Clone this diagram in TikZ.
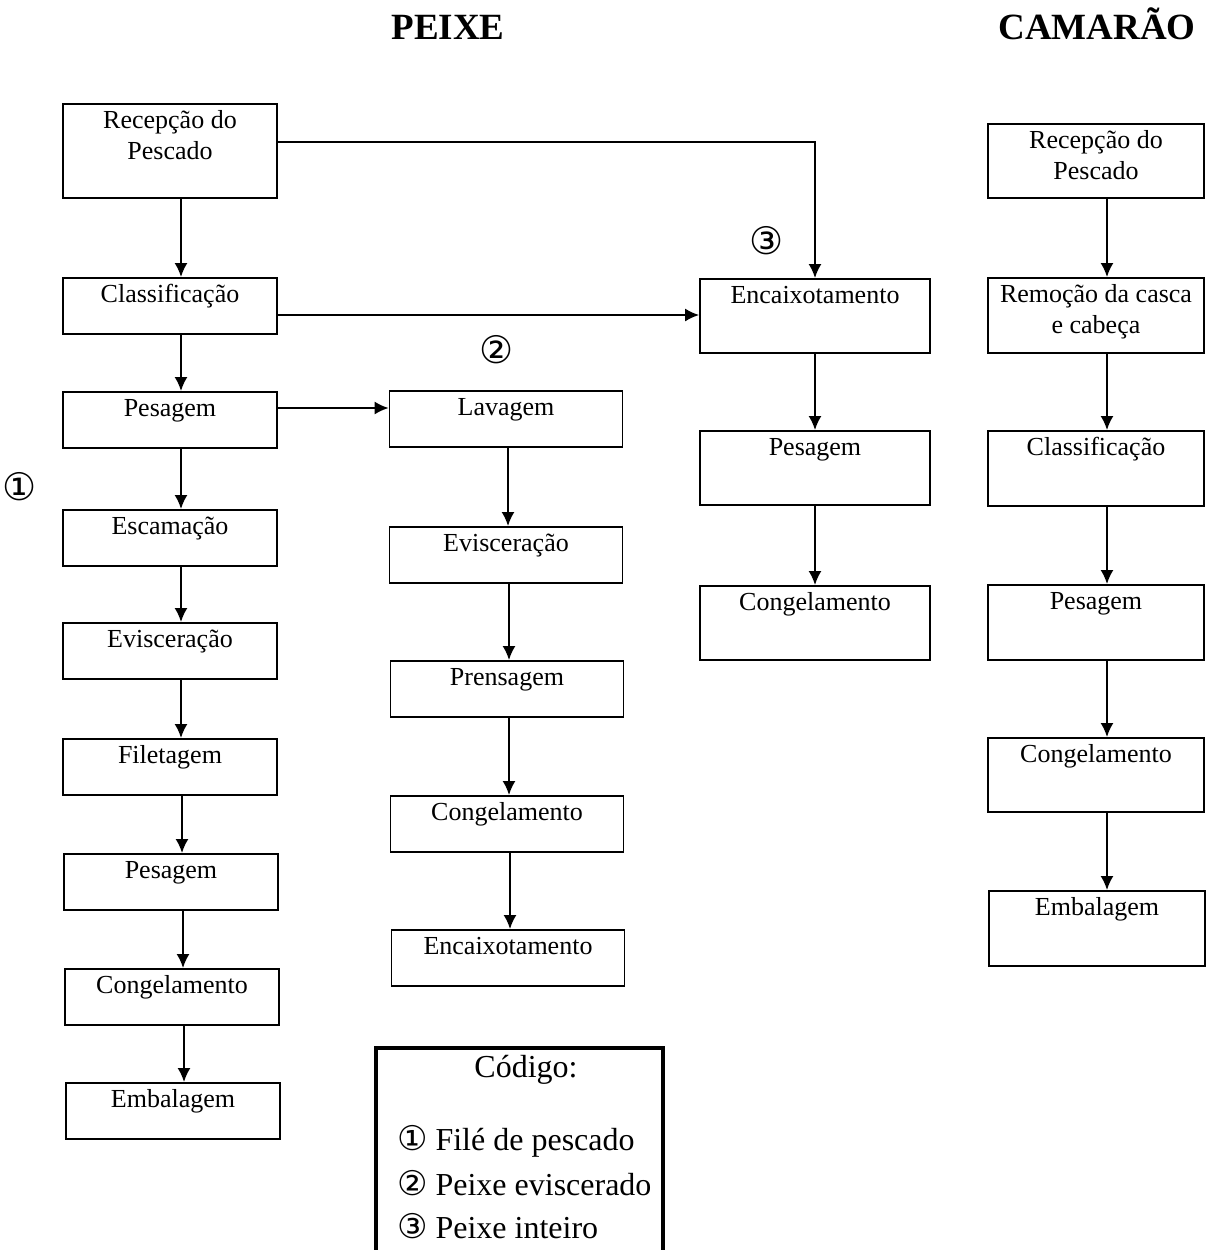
\documentclass[tikz,border=0pt]{standalone}
\usepackage{fontspec}
\setmainfont{Liberation Serif}
\newfontfamily\circfont{DejaVu Sans}
\usetikzlibrary{arrows.meta}
\newcommand{\boxfont}{\fontsize{13}{15.5}\selectfont}
\newcommand{\cnum}[1]{{\circfont\fontsize{17}{19}\selectfont #1}}
\tikzset{
  stepbox/.style={draw, line width=0.9pt, anchor=north, inner sep=0pt, font=\boxfont,
    execute at begin node={\begin{minipage}[c][#1][t]{104pt}\centering\vspace{1.6pt}\strut},
    execute at end node={\end{minipage}}},
  stepbox/.default=28pt,
  colA/.style={minimum width=107pt},
  colB/.style={minimum width=116.5pt},
  colC/.style={minimum width=115pt},
  colD/.style={minimum width=108pt},
  flow/.style={->, line width=0.9pt},
  title/.style={font=\bfseries\fontsize{18.5}{22}\selectfont, anchor=base},
  codetext/.style={font=\fontsize{16}{19}\selectfont, anchor=base west},
  mark num/.style={font=\fontsize{19}{22}\selectfont\circfont}
}
\begin{document}
\begin{tikzpicture}[x=0.5pt,y=-0.5pt,>={Latex[length=7pt,width=6.5pt]}]
\useasboundingbox (0,0) rectangle (1211,1250);

% titulos
\node[title] (peixe) at (448,39) {PEIXE};
\node[title] (camarao) at (1097,39) {CAMARÃO};

% peixe - file
\node[stepbox=47pt, colA] (rec1) at (170,103) {Recepção do\\Pescado};
\node[stepbox, colA] (cla1) at (170,277) {Classificação};
\node[stepbox, colA] (pes1) at (170,391) {Pesagem};
\node[stepbox, colA] (esc1) at (170,509) {Escamação};
\node[stepbox, colA] (evi1) at (170,622) {Evisceração};
\node[stepbox, colA] (fil1) at (170,738) {Filetagem};
\node[stepbox, colA] (pes1b) at (171,853) {Pesagem};
\node[stepbox, colA] (con1) at (172,968) {Congelamento};
\node[stepbox, colA] (emb1) at (173,1082) {Embalagem};
\foreach \a/\b in {rec1/cla1,cla1/pes1,pes1/esc1,esc1/evi1,evi1/fil1,fil1/pes1b,pes1b/con1,con1/emb1}
  \draw[flow] ([xshift=5.5pt]\b.north |- \a.south) -- ([xshift=5.5pt]\b.north);

% peixe - eviscerado
\node[stepbox, colB] (lav2) at (506,390) {Lavagem};
\node[stepbox, colB] (evi2) at (506,526) {Evisceração};
\node[stepbox, colB] (pre2) at (507,660) {Prensagem};
\node[stepbox, colB] (con2) at (507,795) {Congelamento};
\node[stepbox, colB] (enc2) at (508,929) {Encaixotamento};
\foreach \a/\b in {lav2/evi2,evi2/pre2,pre2/con2,con2/enc2}
  \draw[flow] ([xshift=1pt]\b.north |- \a.south) -- ([xshift=1pt]\b.north);

% peixe - inteiro
\node[stepbox=37pt, colC] (enc3) at (815,278) {Encaixotamento};
\node[stepbox=37pt, colC] (pes3) at (815,430) {Pesagem};
\node[stepbox=37pt, colC] (con3) at (815,585) {Congelamento};
\foreach \a/\b in {enc3/pes3,pes3/con3}
  \draw[flow] (\a.south) -- (\b.north);

% ligacoes
\draw[flow] ([yshift=-19.5pt]rec1.north east) -| (enc3.north);
\draw[flow] ([yshift=-19pt]cla1.north east) -- ([yshift=-19pt]cla1.north east -| enc3.west);
\draw[flow] ([yshift=-8.5pt]pes1.north east) -- ([yshift=-8.5pt]pes1.north east -| lav2.west);

% camarao
\node[stepbox=37pt, colD] (rec4) at (1096,123) {Recepção do\\Pescado};
\node[stepbox=37.5pt, colD] (rem4) at (1096,277) {Remoção da casca\\e cabeça};
\node[stepbox=37.5pt, colD] (cla4) at (1096,430) {Classificação};
\node[stepbox=37.5pt, colD] (pes4) at (1096,584) {Pesagem};
\node[stepbox=37pt, colD] (con4) at (1096,737) {Congelamento};
\node[stepbox=37.5pt, colD] (emb4) at (1097,890) {Embalagem};
\foreach \a/\b in {rec4/rem4,rem4/cla4,cla4/pes4,pes4/con4,con4/emb4}
  \draw[flow] ([xshift=5.5pt]\a.south) -- ([xshift=5.5pt]\a.south |- \b.north);

% numeros
\node[mark num] (n1) at (20,487) {①};
\node[mark num] (n2) at (497,350) {②};
\node[mark num] (n3) at (767,241) {③};

% codigo
\draw[line width=2pt] (376,1262) -- (376,1048) -- (663,1048) -- (663,1262);
\node[font=\fontsize{16}{19}\selectfont, anchor=base] (codigo) at (526,1077) {Código:};
\node[codetext] (cod1) at (390,1150) {\cnum{①} Filé de pescado};
\node[codetext] (cod2) at (390,1195) {\cnum{②} Peixe eviscerado};
\node[codetext] (cod3) at (390,1238) {\cnum{③} Peixe inteiro};
\end{tikzpicture}
\end{document}
